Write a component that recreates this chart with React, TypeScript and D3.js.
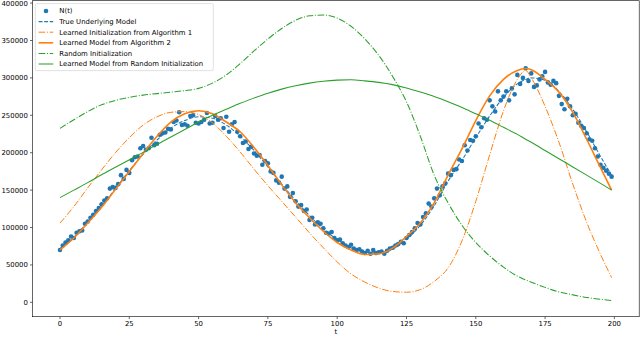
import React from 'react';
import * as d3 from 'd3';

const width = 640;
const height = 337;

// observed N(t), one value per t = 0..199
const nObs = [
  70000, 76000, 80000, 83000, 88000, 86000, 93000, 95000, 96000, 105000,
  108000, 113000, 117000, 122000, 126000, 131000, 136000, 139000, 152000, 154000,
  153000, 158000, 170000, 165000, 177000, 173000, 190000, 194000, 195000, 206000,
  209000, 204000, 206000, 220000, 210000, 212000, 224000, 226000, 227000, 232000,
  231000, 241000, 243000, 254000, 237000, 238000, 236000, 249000, 250000, 240000,
  239000, 241000, 244000, 253000, 239000, 240000, 249000, 244000, 246000, 233000,
  248000, 228000, 238000, 241000, 228000, 222000, 213000, 215000, 205000, 208000,
  199000, 196000, 197000, 184000, 189000, 186000, 175000, 173000, 163000, 160000,
  168000, 152000, 155000, 141000, 146000, 135000, 128000, 130000, 122000, 124000,
  110000, 113000, 104000, 107000, 105000, 99000, 93000, 92000, 94000, 86000,
  83000, 84000, 79000, 76000, 74000, 77000, 72000, 70000, 71000, 68000,
  66000, 69000, 65000, 70000, 66000, 67000, 68000, 65000, 69000, 72000,
  73000, 76000, 78000, 81000, 79000, 86000, 90000, 94000, 99000, 106000,
  104000, 114000, 119000, 132000, 128000, 139000, 152000, 143000, 155000, 159000,
  172000, 170000, 177000, 178000, 191000, 189000, 210000, 203000, 217000, 216000,
  222000, 239000, 234000, 246000, 244000, 270000, 262000, 255000, 282000, 270000,
  275000, 282000, 270000, 286000, 278000, 304000, 292000, 300000, 313000, 296000,
  306000, 288000, 290000, 298000, 302000, 308000, 294000, 291000, 296000, 293000,
  276000, 265000, 258000, 272000, 262000, 250000, 252000, 240000, 236000, 233000,
  226000, 218000, 216000, 206000, 195000, 184000, 180000, 176000, 172000, 168000,
];

// time points at which the model curves were read
const curveT = [
  0, 5, 10, 15, 20, 25, 30, 35, 40, 45, 50, 55, 60, 65, 70, 75, 80, 85, 90, 95,
  100, 105, 110, 115, 120, 125, 130, 135, 140, 145, 150, 155, 160, 165, 168, 170,
  175, 180, 185, 190, 195, 199,
];

const trueModel = [
  72000, 87000, 107000, 128000, 152000, 176000, 198000, 217000, 233000, 243000,
  248000, 246000, 237000, 222000, 203000, 181000, 158000, 136000, 116000, 98000,
  84000, 73000, 67000, 66000, 71000, 84000, 103000, 129000, 162000, 190000,
  220000, 249000, 274000, 292000, 298000, 300000, 297000, 282000, 258000, 228000,
  195000, 170000,
];

const alg1Init = [
  106000, 128000, 153000, 177000, 200000, 220000, 237000, 248000, 254000, 255000,
  251000, 240000, 222000, 201000, 178000, 156000, 135000, 114000, 93000, 73000,
  54000, 38000, 27000, 19000, 14500, 13500, 17000, 28000, 46000, 82000,
  135000, 197000, 256000, 298000, 310000, 300000, 262000, 214000, 158000, 107000,
  64000, 33000,
];

const alg2Model = [
  70000, 86000, 106000, 127000, 151000, 175000, 199000, 222000, 241000, 252000,
  256000, 252000, 241000, 228000, 207000, 183000, 157000, 133000, 113000, 95000,
  80000, 70000, 64000, 65000, 72500, 88000, 106000, 133000, 170000, 205000,
  243000, 276000, 298000, 310000, 312500, 311000, 298000, 281000, 254000, 218000,
  180000, 150000,
];

const randomInit = [
  232600, 244000, 255000, 264000, 270000, 274000, 277000, 279000, 281000, 283000,
  286000, 293000, 304000, 319000, 336000, 352000, 366000, 377000, 383000, 384000,
  380000, 369000, 352000, 330000, 302000, 268000, 222000, 170000, 133000, 103000,
  80000, 62000, 47000, 35000, 30000, 27000, 20000, 14000, 10000, 6500,
  4000, 2500,
];

const randomLearned = [
  140000, 150000, 160000, 170500, 180500, 190500, 200500, 211000, 221000, 231000,
  241000, 250000, 258000, 266000, 273000, 279500, 285000, 289500, 293000, 295500,
  297000, 297500, 296000, 294000, 291000, 286500, 281000, 275000, 268000, 260500,
  252000, 243500, 234000, 224500, 218000, 214000, 203000, 192000, 181000, 170000,
  159000, 150000,
];

const xTicks = [0, 25, 50, 75, 100, 125, 150, 175, 200];

const blue = '#1f77b4';
const orange = '#ff7f0e';
const green = '#2ca02c';
const font = 'DejaVu Sans, sans-serif';
const fs = 6.9;

const x = d3.scaleLinear().domain([-9.95, 208.95]).range([32.4, 639.2]);
const y = d3.scaleLinear().domain([-19200, 403200]).range([316.7, 0.7]);

const series = [
  { name: 'True Underlying Model', values: trueModel, color: blue, width: 1.05, dash: '3.9,1.7' },
  { name: 'Learned Initialization from Algorithm 1', values: alg1Init, color: orange, width: 1.0, dash: '6.7,1.7,1.0,1.7' },
  { name: 'Learned Model from Algorithm 2', values: alg2Model, color: orange, width: 1.6, dash: null },
  { name: 'Random Initialization', values: randomInit, color: green, width: 1.05, dash: '6.7,1.7,1.0,1.7' },
  { name: 'Learned Model from Random Initialization', values: randomLearned, color: green, width: 1.05, dash: null },
];

const lineGen = d3.line<number>()
  .x((_, i) => x(curveT[i]))
  .y(d => y(d))
  .curve(d3.curveMonotoneX);

const App = () => {
  const yTicks = y.ticks(8);
  const legendY = [11, 21.6, 32.2, 42.8, 53.4, 64];
  return (
    <svg width={width} height={height} style={{ position: 'absolute', left: 0, top: 0, background: '#fff' }}
      fontFamily={font} fontSize={fs}>
      <defs>
        <clipPath id="plot">
          <rect x={32.4} y={0.7} width={639.2 - 32.4} height={316.7 - 0.7} />
        </clipPath>
      </defs>
      <g clipPath="url(#plot)">
        {nObs.map((v, i) => (
          <circle key={i} cx={x(i)} cy={y(v)} r={2.3} fill={blue} />
        ))}
        {series.map(s => (
          <path key={s.name} d={lineGen(s.values) || ''} fill="none" stroke={s.color}
            strokeWidth={s.width} strokeDasharray={s.dash || undefined} />
        ))}
      </g>
      {/* spines */}
      <rect x={32.4} y={0.7} width={639.2 - 32.4} height={316.7 - 0.7} fill="none" stroke="#000" strokeWidth={0.6} />
      {/* y axis */}
      {yTicks.map(t => (
        <g key={t} transform={`translate(0,${y(t)})`}>
          <line x1={30} x2={32.4} stroke="#000" strokeWidth={0.6} />
          <text x={27.8} dy="0.35em" textAnchor="end">{t}</text>
        </g>
      ))}
      {/* x axis */}
      {xTicks.map(t => (
        <g key={t} transform={`translate(${x(t)},316.7)`}>
          <line y1={0} y2={2.4} stroke="#000" strokeWidth={0.6} />
          <text y={4.8} dy="0.71em" textAnchor="middle">{t}</text>
        </g>
      ))}
      <text x={x(99.5)} y={329.5} dy="0.71em" textAnchor="middle">t</text>
      {/* legend */}
      <rect x={35.3} y={3.6} width={178} height={67} rx={1.5} fill="#fff" fillOpacity={0.8} stroke="#ccc" strokeWidth={0.6} />
      <circle cx={46} cy={legendY[0]} r={2.3} fill={blue} />
      <text x={59.3} y={legendY[0]} dy="0.35em">N(t)</text>
      {series.map((s, i) => (
        <g key={s.name}>
          <line x1={38.6} x2={53.2} y1={legendY[i + 1]} y2={legendY[i + 1]} stroke={s.color}
            strokeWidth={s.width} strokeDasharray={s.dash || undefined} />
          <text x={59.3} y={legendY[i + 1]} dy="0.35em">{s.name}</text>
        </g>
      ))}
    </svg>
  );
};

export default App;
